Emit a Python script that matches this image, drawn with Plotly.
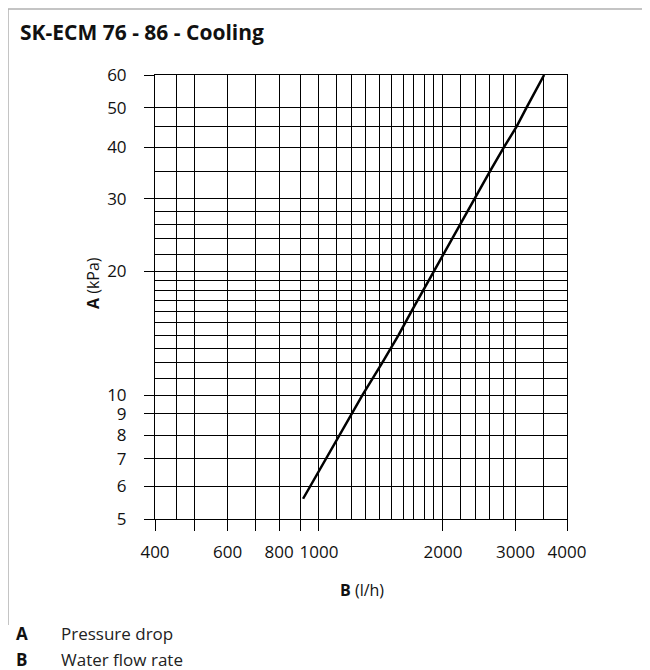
import plotly.graph_objects as go

# Curve: water flow rate (l/h) vs pressure drop (kPa)
flow_lh = [915, 952, 1038, 1121, 1199, 1275, 1425, 1560, 1678, 1792, 1895, 2008, 2600, 2810, 3020, 3190, 3520]
pressure_kpa = [5.6, 6, 7, 8, 9, 10, 12, 14, 16, 18, 20, 22, 35, 40, 45, 50, 60]

x_major = [400, 500, 600, 700, 800, 900, 1000, 2000, 3000, 4000]
x_major_text = ["400", "", "600", "", "800", "", "1000", "2000", "3000", "4000"]
x_minor = [450, 1100, 1200, 1300, 1400, 1500, 1600, 1700, 1800, 1900, 2200, 2400, 2600, 2800, 3500]

y_major = [5, 6, 7, 8, 9, 10, 20, 30, 40, 50, 60]
y_major_text = ["5", "6", "7", "8", "9", "10", "20", "30", "40", "50", "60"]
y_minor = [11, 12, 13, 14, 15, 16, 17, 18, 19, 22, 24, 26, 28, 35, 45]

# page offset of the figure (browser body margin)
OFF = 8
W, H = 650 - OFF, 670 - OFF
# plot area in page pixels
L, R, T, B = 155, 567, 75, 519
PW, PH = R - L, B - T


def px(x):
    return (x - L) / PW


def py(y):
    return (B - y) / PH


FONT = "Open Sans, Noto Sans, sans-serif"

fig = go.Figure()
fig.add_trace(go.Scatter(x=flow_lh, y=pressure_kpa, mode="lines",
                         line=dict(color="black", width=2.5), showlegend=False,
                         hoverinfo="x+y"))

axis_common = dict(
    type="log", showgrid=True, gridcolor="black", gridwidth=1,
    ticks="outside", tickcolor="black", tickwidth=1,
    showline=True, linecolor="black", linewidth=1, mirror=True,
    zeroline=False, tickfont=dict(family=FONT, size=17, color="#111"),
)

fig.update_xaxes(
    range=[2.60206, 3.60206], tickmode="array", tickvals=x_major, ticktext=x_major_text,
    ticklen=11, ticklabelstandoff=7,
    minor=dict(tickmode="array", tickvals=x_minor, showgrid=True, gridcolor="black",
               gridwidth=1, ticks=""),
    **axis_common,
)
fig.update_yaxes(
    range=[0.69897, 1.778151], tickmode="array", tickvals=y_major, ticktext=y_major_text,
    ticklen=10, ticklabelstandoff=14,
    minor=dict(tickmode="array", tickvals=y_minor, showgrid=True, gridcolor="black",
               gridwidth=1, ticks=""),
    **axis_common,
)

annotations = [
    dict(text="<b>SK-ECM 76 - 86 - Cooling</b>", x=px(18), y=py(32), xanchor="left",
         yanchor="middle", font=dict(family=FONT, size=21, color="#111")),
    dict(text="<b>A</b> (kPa)", x=px(93), y=py(283), textangle=-90, xanchor="center",
         yanchor="middle", font=dict(family=FONT, size=16, color="#111")),
    dict(text="<b>B</b> (l/h)", x=px(362), y=py(590), xanchor="center",
         yanchor="middle", font=dict(family=FONT, size=16, color="#111")),
    dict(text="<b>A</b>", x=px(14), y=py(633), xanchor="left", yanchor="middle",
         font=dict(family=FONT, size=17, color="#111")),
    dict(text="Pressure drop", x=px(59), y=py(633), xanchor="left", yanchor="middle",
         font=dict(family=FONT, size=17, color="#222")),
    dict(text="<b>B</b>", x=px(14), y=py(659), xanchor="left", yanchor="middle",
         font=dict(family=FONT, size=17, color="#111")),
    dict(text="Water flow rate", x=px(59), y=py(659), xanchor="left", yanchor="middle",
         font=dict(family=FONT, size=17, color="#222")),
]
for a in annotations:
    a.update(xref="paper", yref="paper", showarrow=False)

shapes = [
    dict(type="line", xref="paper", yref="paper", x0=px(8), y0=py(9), x1=px(650), y1=py(9),
         line=dict(color="#b0b0b0", width=1.5)),
    dict(type="line", xref="paper", yref="paper", x0=px(8), y0=py(9), x1=px(8), y1=py(625),
         line=dict(color="#b0b0b0", width=1.5)),
]

fig.update_layout(
    width=W, height=H,
    margin=dict(l=L - OFF, r=W - (R - OFF), t=T - OFF, b=H - (B - OFF)),
    paper_bgcolor="white", plot_bgcolor="white",
    annotations=annotations, shapes=shapes, showlegend=False,
    font=dict(family=FONT),
)

fig.write_html("out.html")
